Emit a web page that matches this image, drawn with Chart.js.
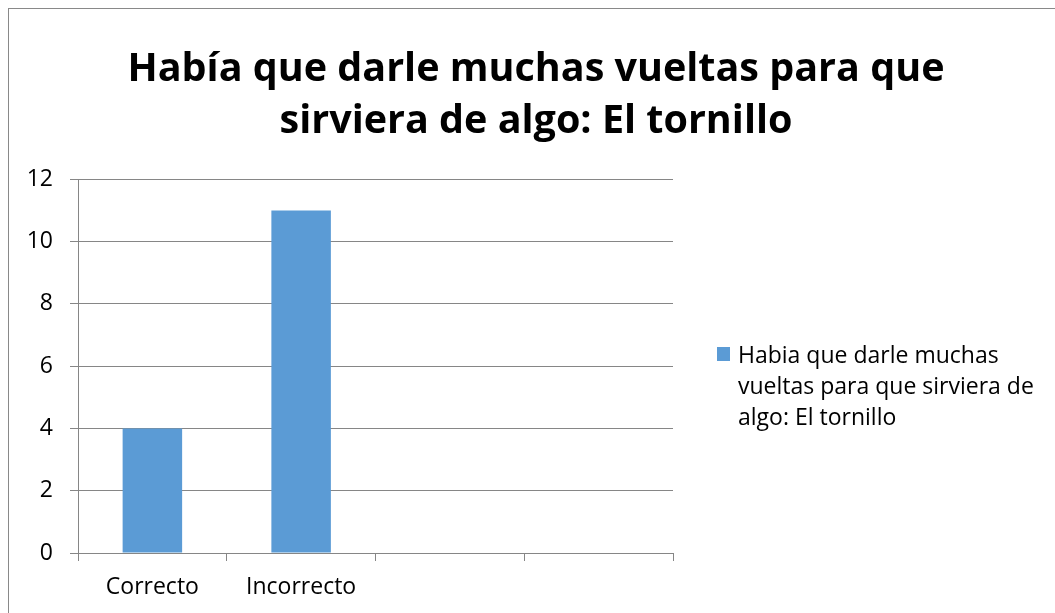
<!DOCTYPE html>
<html>
<head>
<meta charset="utf-8">
<script src="https://cdn.jsdelivr.net/npm/chart.js@4.4.1/dist/chart.umd.min.js"></script>
<style>
  html, body { margin: 0; padding: 0; background: #fff; overflow: hidden; }
  #wrap { position: relative; width: 1055px; height: 613px; overflow: hidden; }
  #frame { position: absolute; left: 8px; top: 8px; width: 1200px; height: 800px;
           border-left: 1px solid #898989; border-top: 1px solid #898989; }
  #chart { position: absolute; left: 0; top: 0; }
  #legend { position: absolute; left: 717px; top: 339px; width: 330px; padding-left: 21px;
            font-family: "Open Sans", sans-serif; font-size: 23px; line-height: 31px; color: #000; }
  #legend .sw { position: absolute; left: 0; top: 8px; width: 13px; height: 14px; }
</style>
</head>
<body>
<div id="wrap">
  <div id="frame"></div>
  <canvas id="chart" width="1072" height="613"></canvas>
  <div id="legend"></div>
</div>
<script>
const titleLines = ["Había que darle muchas vueltas para que", "sirviera de algo: El tornillo"];
const seriesName = "Habia que darle muchas vueltas para que sirviera de algo: El tornillo";
const categories = ["Correcto", "Incorrecto", "", ""];
const values = [4, 11, null, null];
const yTicks = [0, 2, 4, 6, 8, 10, 12];

const barColor = "#5B9BD5";
const lineColor = "#868686";
const font = "'Open Sans', sans-serif";

const ctx = document.getElementById("chart");
const chart = new Chart(ctx, {
  type: "bar",
  data: {
    labels: categories,
    datasets: [{
      label: seriesName,
      data: values,
      backgroundColor: barColor,
      categoryPercentage: 1,
      barPercentage: 0.4
    }]
  },
  options: {
    responsive: false,
    animation: false,
    layout: { padding: 0 },
    plugins: {
      legend: { display: false },
      tooltip: { enabled: false },
      title: {
        display: true,
        text: titleLines,
        color: "#000",
        font: { family: font, size: 39.5, weight: "bold", lineHeight: 1.32 },
        padding: { top: 44, bottom: 31 }
      }
    },
    scales: {
      x: {
        grid: { drawOnChartArea: false, color: lineColor, tickLength: 8, offset: true },
        border: { color: lineColor },
        ticks: { color: "#000", font: { family: font, size: 23 }, padding: 13, maxRotation: 0 },
        afterFit: (scale) => { scale.height = 60; }
      },
      y: {
        min: 0,
        max: 12,
        afterBuildTicks: (scale) => { scale.ticks = yTicks.map(v => ({ value: v })); },
        grid: { color: lineColor, tickLength: 8 },
        border: { color: lineColor },
        ticks: { color: "#000", font: { family: font, size: 23 }, padding: 17 },
        afterFit: (scale) => { scale.width = 78; }
      },
      // empty right-hand box that keeps room for the legend
      side: {
        position: "right",
        grid: { display: false },
        border: { display: false },
        ticks: { display: false },
        afterFit: (scale) => { scale.width = 1072 - 673; }
      }
    }
  }
});

const legend = document.getElementById("legend");
chart.data.datasets.forEach(ds => {
  const sw = document.createElement("span");
  sw.className = "sw";
  sw.style.background = ds.backgroundColor;
  legend.appendChild(sw);
  legend.appendChild(document.createTextNode(ds.label));
});
</script>
</body>
</html>
